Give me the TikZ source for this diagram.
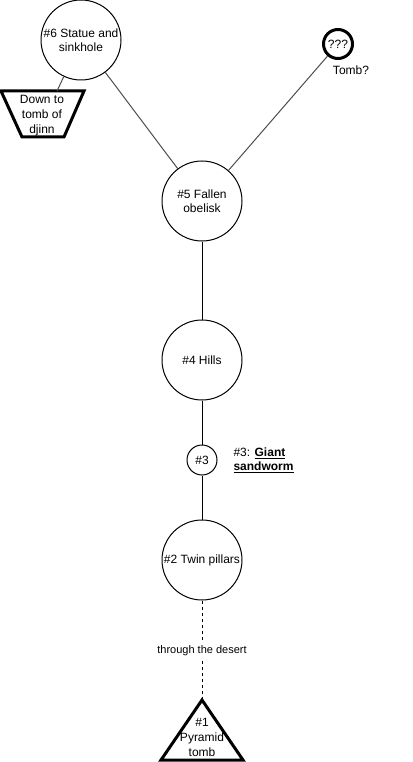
\documentclass[tikz,border=0pt]{standalone}
\usepackage{fontspec}
\setmainfont{Liberation Sans}
\tikzset{
  place/.style = {circle, draw, fill = white, line width = 1pt,
                  minimum size = 80pt, inner sep = 0pt, align = center,
                  font = \fontsize{12}{14}\selectfont},
  small place/.style = {place, minimum size = 30pt},
  road/.style = {line width = 1pt},
  marker/.style = {line width = 3pt, line join = miter},
}
\begin{document}
\begin{tikzpicture}[x = 1pt, y = -1pt]
      \useasboundingbox (0,0) rectangle (412,762);
      % places along the way
      \node [place] (n6) at (81,40) {\#6 Statue and\\sinkhole};
      \node [place] (n5) at (202,201) {\#5 Fallen\\obelisk};
      \node [place] (n4) at (202,360) {\#4 Hills};
      \node [small place] (n3) at (202,460) {\#3};
      \node [place] (n2) at (202,560) {\#2 Twin pillars};
      \node [small place, line width = 3pt, minimum size = 29pt] (tomb) at (338,44) {???};
      % way down
      \coordinate (djinn) at (57,91);
      \draw [marker] (1,91) -- (84,91) -- (64,137) -- (22,137) -- cycle;
      \node [align = center, font = \fontsize{12}{15}\selectfont] (djinntext) at (42,116)
        {Down to\\tomb of\\djinn};
      % the pyramid
      \coordinate (n1) at (202,700);
      \draw [marker] (n1) -- (243,760) -- (161,760) -- cycle;
      \node [align = center, font = \fontsize{12}{15}\selectfont] (n1text) at (202,737)
        {\#1\\Pyramid\\tomb};
      % labels
      \node [anchor = west, align = left, font = \fontsize{12}{14}\selectfont]
        (worm) at (230,460) {\#3: \textbf{\underline{Giant}}\\\textbf{\underline{sandworm}}};
      \node [font = \fontsize{12}{14}\selectfont] (tombq) at (351,70) {Tomb?};
      % roads
      \draw [road, black!70] (djinn) -- (n6);
      \draw [road, black!70] (n6) -- (n5);
      \draw [road, black!70] (tomb) -- (n5);
      \draw [road] (n5) -- (n4);
      \draw [road] (n4) -- (n3);
      \draw [road] (n3) -- (n2);
      \draw [road, dashed] (n2) -- (n1)
        node [pos = .5, fill = white, font = \fontsize{11}{13}\selectfont] {through the desert};
    \end{tikzpicture}
\end{document}
